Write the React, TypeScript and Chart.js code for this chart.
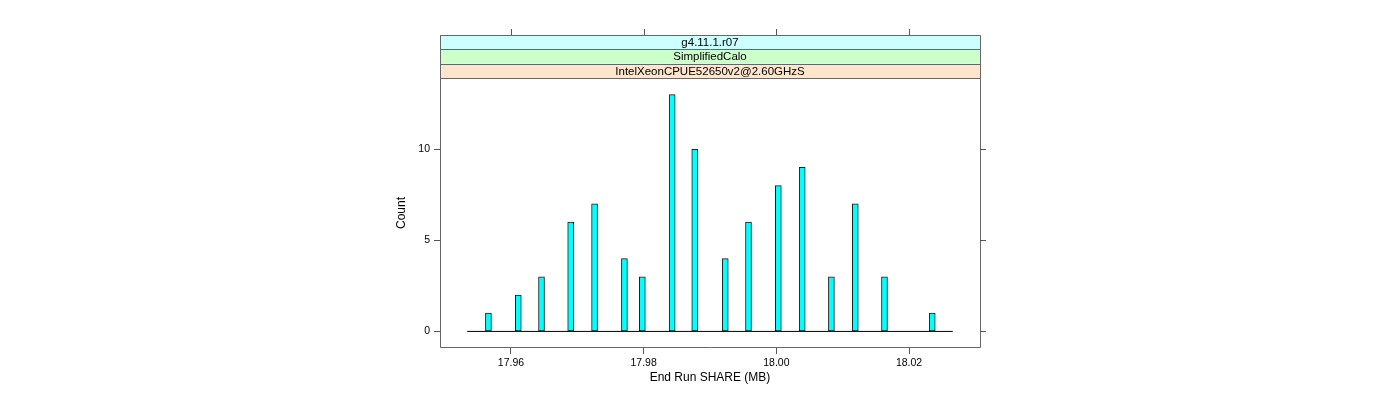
import React, { useEffect, useRef } from "react";
import { Chart, registerables } from "chart.js";

Chart.register(...registerables);

// ---- data ----
const BIN_CENTERS = [
  17.9566, 17.9611, 17.9646, 17.969, 17.9726, 17.9771, 17.9798, 17.9843, 17.9877,
  17.9923, 17.9958, 18.0003, 18.0039, 18.0083, 18.0119, 18.0163, 18.0235,
];
const COUNTS = [1, 2, 3, 6, 7, 4, 3, 13, 10, 4, 6, 8, 9, 3, 7, 3, 1];
const HIST_RANGE = [17.9534, 18.0266];
const X_RANGE = [17.9493, 18.0307];
const Y_RANGE = [-0.91, 13.91];
const X_TICKS = [17.96, 17.98, 18.0, 18.02];
const Y_TICKS = [0, 5, 10];
const STRIP_LABELS = ["g4.11.1.r07", "SimplifiedCalo", "IntelXeonCPUE52650v2@2.60GHzS"];
const X_TITLE = "End Run SHARE (MB)";
const Y_TITLE = "Count";

// ---- styles ----
const STRIP_COLORS = ["#CCFFFF", "#CCFFCC", "#FFE5CC"];
const STRIP_H = 14.33;
const FRAME = "#666666";
const FONT = "'Liberation Sans', Arial, Helvetica, sans-serif";

const panelPlugin = {
  id: "latticePanel",
  afterDraw(chart: any) {
    const { ctx, chartArea: a, scales } = chart;
    ctx.save();
    const n = STRIP_LABELS.length;
    const stripTop = a.top - n * STRIP_H;
    // strips
    for (let i = 0; i < n; i++) {
      const y0 = stripTop + i * STRIP_H;
      ctx.fillStyle = STRIP_COLORS[i];
      ctx.fillRect(a.left, y0, a.right - a.left, STRIP_H);
    }
    ctx.strokeStyle = FRAME;
    ctx.lineWidth = 1;
    for (let i = 0; i <= n; i++) {
      const y = Math.round(stripTop + i * STRIP_H) + 0.5;
      ctx.beginPath();
      ctx.moveTo(a.left + 0.5, y);
      ctx.lineTo(a.right + 0.5, y);
      ctx.stroke();
    }
    ctx.fillStyle = "#000";
    ctx.font = `11.5px ${FONT}`;
    ctx.textAlign = "center";
    ctx.textBaseline = "middle";
    for (let i = 0; i < n; i++) {
      ctx.fillText(STRIP_LABELS[i], (a.left + a.right) / 2, stripTop + i * STRIP_H + STRIP_H / 2 + 0.5);
    }
    // panel border incl. strips
    ctx.strokeStyle = FRAME;
    ctx.beginPath();
    ctx.rect(a.left + 0.5, Math.round(stripTop) + 0.5, a.right - a.left, Math.round(a.bottom - stripTop) - 1);
    ctx.stroke();
    // top ticks
    ctx.strokeStyle = "#555";
    for (const v of X_TICKS) {
      const x = Math.round(scales.x.getPixelForValue(v)) + 0.5;
      ctx.beginPath();
      ctx.moveTo(x, Math.round(stripTop));
      ctx.lineTo(x, Math.round(stripTop) - 6);
      ctx.stroke();
    }
    // right ticks
    for (const v of Y_TICKS) {
      const y = Math.round(scales.y.getPixelForValue(v)) + 0.5;
      ctx.beginPath();
      ctx.moveTo(a.right, y);
      ctx.lineTo(a.right + 6, y);
      ctx.stroke();
    }
    ctx.restore();
  },
};

export default function App() {
  const ref = useRef<HTMLCanvasElement>(null);
  useEffect(() => {
    Chart.defaults.font.family = FONT;
    const chart = new Chart(ref.current as HTMLCanvasElement, {
      type: "bar",
      data: {
        datasets: [
          {
            type: "bar",
            data: BIN_CENTERS.map((x, i) => ({ x, y: COUNTS[i] })),
            backgroundColor: "#00FFFF",
            borderColor: "#1c1c1c",
            borderWidth: 1,
            borderSkipped: false,
            barThickness: 6,
            order: 1,
          } as any,
          {
            type: "line",
            data: HIST_RANGE.map((x) => ({ x, y: 0 })),
            borderColor: "#000",
            borderWidth: 1,
            pointRadius: 0,
            order: 2,
          } as any,
        ],
      },
      options: {
        responsive: false,
        animation: false,
        devicePixelRatio: 1,
        layout: { padding: { left: 380, right: 420, top: 78, bottom: 0 } },
        plugins: {
          legend: { display: false },
          tooltip: { enabled: false },
        },
        scales: {
          x: {
            type: "linear",
            min: X_RANGE[0],
            max: X_RANGE[1],
            offset: false,
            afterBuildTicks: (s: any) => {
              s.ticks = X_TICKS.map((v) => ({ value: v }));
            },
            afterFit: (s: any) => {
              s.height = 52;
            },
            ticks: {
              callback: (v: any) => Number(v).toFixed(2),
              font: { size: 10.5 },
              color: "#000",
              padding: 3,
              maxRotation: 0,
              autoSkip: false,
            },
            grid: { offset: false, drawOnChartArea: false, drawTicks: true, tickLength: 6, color: "#555" },
            border: { display: false },
            title: {
              display: true,
              text: X_TITLE,
              font: { size: 12 },
              color: "#000",
              padding: { top: 0, bottom: 14.8 },
            },
          },
          y: {
            type: "linear",
            min: Y_RANGE[0],
            max: Y_RANGE[1],
            afterBuildTicks: (s: any) => {
              s.ticks = Y_TICKS.map((v) => ({ value: v }));
            },
            afterFit: (s: any) => {
              s.width = 60;
            },
            ticks: {
              callback: (v: any) => String(v),
              font: { size: 10.5 },
              color: "#000",
              padding: 4,
            },
            grid: { offset: false, drawOnChartArea: false, drawTicks: true, tickLength: 6, color: "#555" },
            border: { display: false },
            title: {
              display: true,
              text: Y_TITLE,
              font: { size: 12 },
              color: "#000",
              padding: { top: 14.5, bottom: 0 },
            },
          },
        },
      } as any,
      plugins: [panelPlugin],
    });
    return () => chart.destroy();
  }, []);
  return (
    <div style={{ position: "absolute", left: 0, top: 0, width: 1400, height: 400 }}>
      <canvas ref={ref} width={1400} height={400} style={{ display: "block", width: 1400, height: 400 }} />
    </div>
  );
}
